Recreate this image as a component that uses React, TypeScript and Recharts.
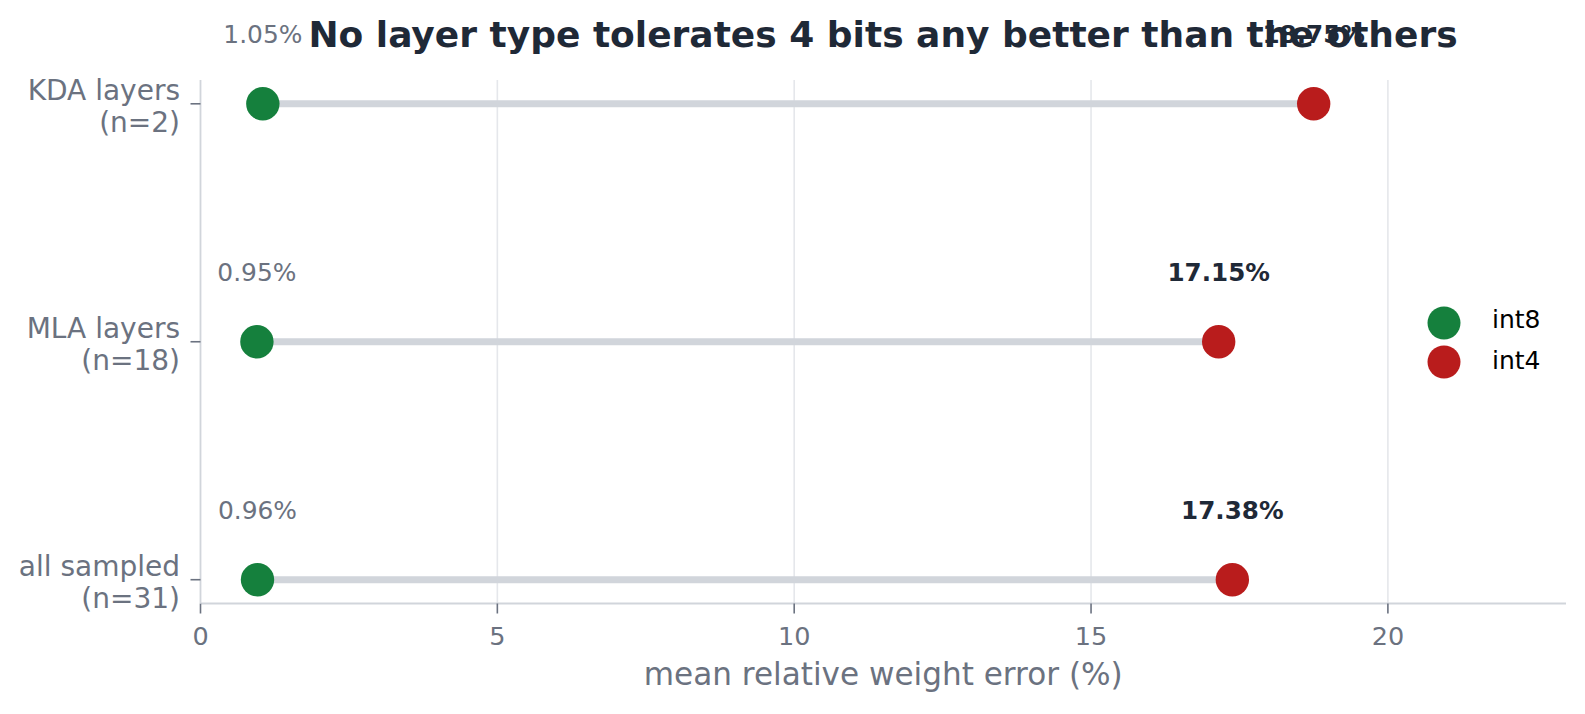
import React from 'react';
import { ScatterChart, Scatter, XAxis, YAxis, ReferenceLine, LabelList } from 'recharts';

const categories = ['all sampled|(n=31)', 'MLA layers|(n=18)', 'KDA layers|(n=2)'];
const int8Values = [0.96, 0.95, 1.05];
const int4Values = [17.38, 17.15, 18.75];
const xTicks = [0, 5, 10, 15, 20];
const gridTicks = [5, 10, 15, 20];
const yTicks = [0, 1, 2];

const int8Data = categories.map((c, i) => ({ x: int8Values[i], y: i, label: `${int8Values[i].toFixed(2)}%` }));
const int4Data = categories.map((c, i) => ({ x: int4Values[i], y: i, label: `${int4Values[i].toFixed(2)}%` }));
const segments = categories.map((c, i) => [
  { x: int8Values[i], y: i },
  { x: int4Values[i], y: i },
]);

const FONT = 'DejaVu Sans, sans-serif';
const GREEN = '#15803d';
const RED = '#b91c1c';
const GRAY = '#6b7280';
const DARK = '#1f2937';

const W = 1569;
const H = 698;

const Dot = (color: string) => (props: any) => {
  const { cx, cy } = props;
  if (cx == null || cy == null) return null;
  return <circle cx={cx} cy={cy} r={16.7} fill={color} />;
};

const NoDot = () => <g />;

const YTick = (props: any) => {
  const { x, y, payload } = props;
  const lines = categories[payload.value].split('|');
  return (
    <g>
      <text x={x - 10.5} y={y - 4} textAnchor="end" fontSize={28} fill={GRAY} fontFamily={FONT}>
        {lines[0]}
      </text>
      <text x={x - 10.5} y={y + 28} textAnchor="end" fontSize={28} fill={GRAY} fontFamily={FONT}>
        {lines[1]}
      </text>
    </g>
  );
};

const XTick = (props: any) => {
  const { x, y, payload } = props;
  return (
    <text x={x} y={y + 31.5} textAnchor="middle" fontSize={25.5} fill={GRAY} fontFamily={FONT}>
      {payload.value}
    </text>
  );
};

const makeLabel = (color: string, weight: string, size: number) => (props: any) => {
  const { x, y, width, height, value } = props;
  const cx = x + (width || 0) / 2;
  const cy = y + (height || 0) / 2;
  return (
    <text x={cx} y={cy - 61} textAnchor="middle" fontSize={size} fontWeight={weight} fill={color} fontFamily={FONT}>
      {value}
    </text>
  );
};

export default function App() {
  return (
    <div style={{ position: 'relative', width: W, height: H, fontFamily: FONT }}>
      <svg style={{ position: 'absolute', left: 0, top: 0 }} width={W} height={H}>
        <text x={875} y={39} textAnchor="middle" fontSize={36} fontWeight="bold" fill={DARK} fontFamily={FONT}>
          No layer type tolerates 4 bits any better than the others
        </text>
      </svg>
      <div style={{ position: 'absolute', left: 0, top: 0 }}>
        <ScatterChart width={W} height={H} margin={{ top: 72, right: 11, bottom: 0, left: 0 }}>
          {gridTicks.map((t) => (
            <ReferenceLine key={`g-${t}`} x={t} stroke="#e5e7eb" strokeWidth={1.6} />
          ))}
          <XAxis
            type="number"
            dataKey="x"
            domain={[0, 23]}
            ticks={xTicks}
            allowDataOverflow
            axisLine={{ stroke: '#d1d5db', strokeWidth: 1.8 }}
            tickLine={{ stroke: GRAY, strokeWidth: 1.6 }}
            tickSize={10}
            tickMargin={0}
            tick={<XTick />}
            height={102.5}
            label={{ value: 'mean relative weight error (%)', position: 'insideBottom', offset: 21, fill: GRAY, fontSize: 31.1, fontFamily: FONT }}
          />
          <YAxis
            type="number"
            dataKey="y"
            domain={[-0.1, 2.1]}
            ticks={yTicks}
            allowDataOverflow
            axisLine={{ stroke: '#d1d5db', strokeWidth: 1.8 }}
            tickLine={{ stroke: GRAY, strokeWidth: 1.6 }}
            tickSize={10}
            tickMargin={0}
            width={192.5}
            tick={<YTick />}
          />
          {segments.map((seg, i) => (
            <Scatter
              key={`seg-${i}`}
              data={seg}
              line={{ stroke: '#d1d5db', strokeWidth: 7 }}
              shape={NoDot}
              legendType="none"
              isAnimationActive={false}
            />
          ))}
          <Scatter name="int8" data={int8Data} fill={GREEN} shape={Dot(GREEN)} isAnimationActive={false}>
            <LabelList dataKey="label" content={makeLabel(GRAY, 'normal', 24.9)} />
          </Scatter>
          <Scatter name="int4" data={int4Data} fill={RED} shape={Dot(RED)} isAnimationActive={false}>
            <LabelList dataKey="label" content={makeLabel(DARK, 'bold', 24.6)} />
          </Scatter>
        </ScatterChart>
      </div>
      <svg style={{ position: 'absolute', left: 1400, top: 280 }} width={160} height={110}>
        <circle cx={36} cy={35} r={16.5} fill={GREEN} />
        <text x={84} y={40.3} fontSize={25} fill="#000" fontFamily={FONT}>int8</text>
        <circle cx={36} cy={74} r={16.5} fill={RED} />
        <text x={84} y={81.3} fontSize={25} fill="#000" fontFamily={FONT}>int4</text>
      </svg>
    </div>
  );
}
